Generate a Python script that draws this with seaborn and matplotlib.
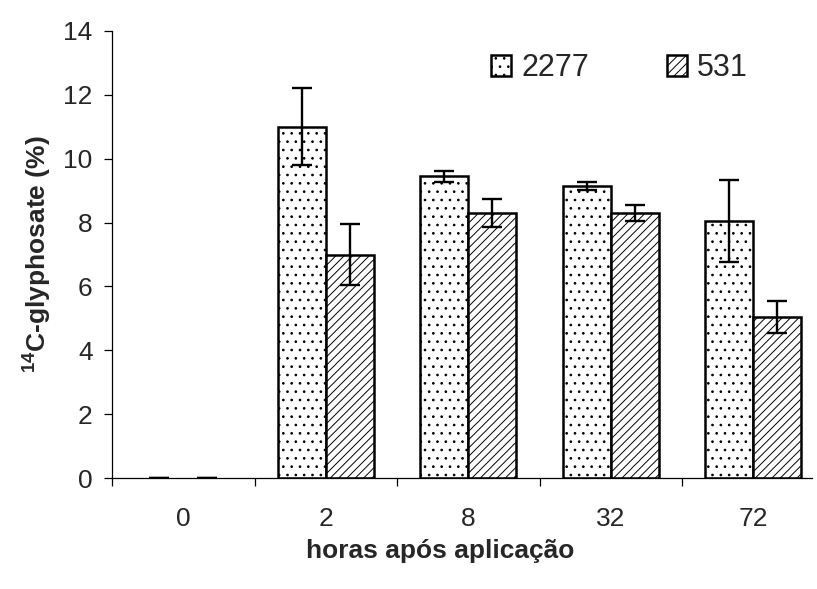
import matplotlib
matplotlib.use("Agg")
import matplotlib.pyplot as plt
import seaborn as sns
import pandas as pd

# Data: 14C-glyphosate (%) by hours after application, for two clones
horas = ["0", "2", "8", "32", "72"]
clones = ["2277", "531"]
valores_2277 = [0.0, 11.0, 9.45, 9.15, 8.05]
erros_2277 = [0.0, 1.2, 0.17, 0.13, 1.27]
valores_531 = [0.0, 7.0, 8.3, 8.3, 5.05]
erros_531 = [0.0, 0.95, 0.45, 0.25, 0.5]
y_ticks = [0, 2, 4, 6, 8, 10, 12, 14]

sns.set_style("white")
plt.rcParams["font.family"] = ["Liberation Sans", "DejaVu Sans"]
plt.rcParams["mathtext.fontset"] = "custom"
plt.rcParams["mathtext.rm"] = "Liberation Sans"
plt.rcParams["mathtext.bf"] = "Liberation Sans:bold"
plt.rcParams["hatch.linewidth"] = 0.7

df = pd.DataFrame({
    "hora": horas * 2,
    "clone": [clones[0]] * len(horas) + [clones[1]] * len(horas),
    "valor": valores_2277 + valores_531,
})
erros = {clones[0]: erros_2277, clones[1]: erros_531}

fig = plt.figure(figsize=(8.17, 5.89), dpi=100)
ax = fig.add_axes([112 / 817, 1 - 478 / 589, (812 - 112) / 817, (478 - 31) / 589])

sns.barplot(data=df, x="hora", y="valor", hue="clone", order=horas,
            hue_order=clones, palette=["white", "white"], edgecolor="black",
            linewidth=1.8, width=0.674, errorbar=None, legend=False,
            saturation=1, ax=ax)

hatches = ["..", "////"]
for cont, hatch, clone in zip(ax.containers, hatches, clones):
    xs, ys = [], []
    for patch in cont.patches:
        patch.set_hatch(hatch)
        patch.set_edgecolor("black")
        if patch.get_height() == 0:
            patch.set_linewidth(0)
        xs.append(patch.get_x() + patch.get_width() / 2)
        ys.append(patch.get_height())
    ax.errorbar(xs, ys, yerr=erros[clone], fmt="none", ecolor="black",
                elinewidth=1.7, capsize=7.2, capthick=1.7, zorder=5)

ax.set_ylim(0, 14)
ax.set_xlim(-0.5, -0.5 + (812 - 112) / 142.5)
ax.set_yticks(y_ticks)
ax.set_yticklabels([str(t) for t in y_ticks])

# category boundaries carry the tick marks, labels sit at the centres
ax.set_xticks([i - 0.5 for i in range(len(horas))])
ax.set_xticklabels([])
ax.set_xticks(range(len(horas)), labels=horas, minor=True)
ax.tick_params(axis="x", which="major", direction="out", length=6,
               width=0.9, color="black", bottom=True)
ax.tick_params(axis="x", which="minor", length=0, pad=21, labelsize=19)
ax.tick_params(axis="y", direction="out", length=6, width=0.9,
               color="black", left=True, pad=8, labelsize=19)

for side in ["top", "right"]:
    ax.spines[side].set_visible(False)
for side in ["left", "bottom"]:
    ax.spines[side].set_color("black")
    ax.spines[side].set_linewidth(0.9)

ax.set_xlabel("horas após aplicação", fontsize=19, fontweight="bold")
ax.set_ylabel(r"$^{\mathbf{14}}$C-glyphosate (%)", fontsize=19,
              fontweight="bold")
ax.xaxis.set_label_coords(0.469, -0.164)
ax.xaxis.label.set_verticalalignment("center")
ax.yaxis.set_label_coords(-0.108, 0.5)
ax.yaxis.label.set_verticalalignment("center")

handles = [ax.containers[0].patches[1], ax.containers[1].patches[1]]
fig.legend(handles=handles, labels=clones, loc="center left",
           bbox_to_anchor=(491 / 817, 1 - 68 / 589), ncol=2, frameon=False,
           fontsize=22, handlelength=0.655, handleheight=0.655,
           handletextpad=0.33, columnspacing=2.55, borderpad=0,
           borderaxespad=0)

fig.savefig("out.png", dpi=100)
